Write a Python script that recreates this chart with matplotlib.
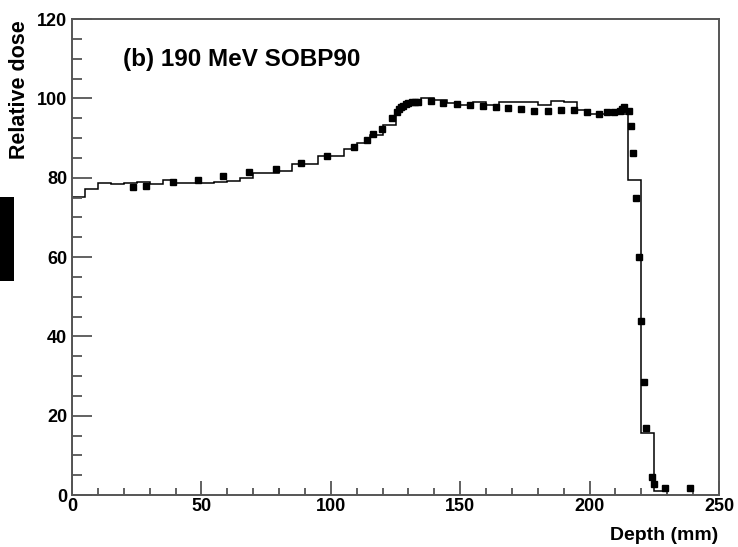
import numpy as np
import matplotlib
matplotlib.use('Agg')
import matplotlib.pyplot as plt
from matplotlib.ticker import MultipleLocator
from matplotlib.patches import Rectangle

plt.rcParams['font.family'] = ['Liberation Sans', 'DejaVu Sans']
plt.rcParams['font.weight'] = 'bold'

#------------------------计算值(直方图)-----------------------------
bin_edges = [0, 5, 10, 15, 20, 25, 30, 35, 40, 45, 50, 55, 60, 65, 70, 75, 80, 85, 90, 95,
             100, 105, 110, 115, 120, 125, 127.5, 130, 135, 140, 145, 150, 155, 160, 165,
             170, 175, 180, 185, 190, 195, 200, 205, 210, 215, 220, 225, 230]
calc_dose = [75.2, 77.1, 78.7, 78.4, 78.7, 79.0, 78.4, 79.4, 78.7, 78.7, 78.7, 79.0, 79.2,
             79.8, 81.2, 81.2, 81.8, 83.4, 83.4, 85.5, 85.5, 87.2, 88.7, 90.7, 93.4,
             97.0, 98.1, 98.8, 100.1, 99.7, 98.9, 98.4, 99.0, 98.4, 99.0, 99.0, 99.0,
             98.2, 99.3, 99.1, 97.0, 96.0, 96.0, 96.0, 79.4, 15.7, 1.1]

#------------------------测量值-----------------------------
meas_depth = [23.4, 28.5, 38.9, 48.8, 58.5, 68.5, 78.8, 88.5, 98.4, 109.1, 113.9, 116.4,
              119.7, 123.8, 125.5, 126.4, 127.1, 128.0, 129.1, 130.0, 131.3, 132.5, 133.8,
              138.6, 143.5, 148.9, 153.8, 158.7, 163.8, 168.6, 173.5, 178.6, 183.9, 189.0,
              194.0, 198.9, 203.7, 206.9, 209.5, 211.7, 212.6, 213.3, 215.2, 215.9, 216.9,
              217.8, 219.2, 220.0, 221.0, 221.9, 224.0, 224.9, 229.1, 238.8]
meas_dose = [77.6, 77.9, 78.8, 79.3, 80.5, 81.4, 82.3, 83.6, 85.5, 87.8, 89.5, 91.0,
             92.2, 95.1, 96.6, 97.2, 97.7, 98.1, 98.6, 98.9, 99.1, 99.2, 99.2,
             99.3, 98.9, 98.6, 98.2, 98.0, 97.7, 97.6, 97.3, 96.7, 96.7, 97.0,
             97.0, 96.5, 96.0, 96.5, 96.5, 96.9, 97.4, 97.7, 96.7, 93.1, 86.1,
             75.0, 60.1, 43.9, 28.6, 16.8, 4.6, 2.8, 1.8, 1.8]

W, H = 738, 547
fig = plt.figure(figsize=(W / 100, H / 100), dpi=100)
ax = fig.add_axes([72 / W, 1 - 495 / H, (719 - 72) / W, (495 - 19) / H])

ax.stairs(calc_dose, bin_edges, color='black', linewidth=1.1, baseline=0)
ax.plot(meas_depth, meas_dose, 's', color='black', markersize=4.2, clip_on=False)

ax.set_xlim(0, 250)
ax.set_ylim(0, 120)

axis_col = '#555555'
for s in ax.spines.values():
    s.set_color(axis_col)
    s.set_linewidth(1.4)

ax.xaxis.set_major_locator(MultipleLocator(50))
ax.xaxis.set_minor_locator(MultipleLocator(10))
ax.yaxis.set_major_locator(MultipleLocator(20))
ax.yaxis.set_minor_locator(MultipleLocator(5))
ax.tick_params(axis='x', which='major', direction='in', length=10, width=1.3, color=axis_col,
               labelsize=13, pad=2.5)
ax.tick_params(axis='x', which='minor', direction='in', length=5, width=1.3, color=axis_col)
ax.tick_params(axis='y', which='major', direction='in', length=14.5, width=1.3, color=axis_col,
               labelsize=13, pad=3.5)
ax.tick_params(axis='y', which='minor', direction='in', length=7.2, width=1.3, color=axis_col)
for lab in ax.get_xticklabels() + ax.get_yticklabels():
    lab.set_fontweight('bold')

fig.text(718 / W, 1 - 540 / H, 'Depth (mm)', ha='right', va='baseline',
         fontsize=14, fontweight='bold')
fig.text(19.5 / W, 1 - 20 / H, 'Relative dose', rotation=90, ha='center', va='top',
         fontsize=15.5, fontweight='bold')
fig.text(123 / W, 1 - 66 / H, '(b) 190 MeV SOBP90', ha='left', va='baseline',
         fontsize=17.5, fontweight='bold')

# 左侧黑块
fig.patches.append(Rectangle((0, 1 - 281 / H), 14 / W, 84 / H, transform=fig.transFigure,
                             facecolor='black', edgecolor='none'))

fig.savefig('out.png', dpi=100)
